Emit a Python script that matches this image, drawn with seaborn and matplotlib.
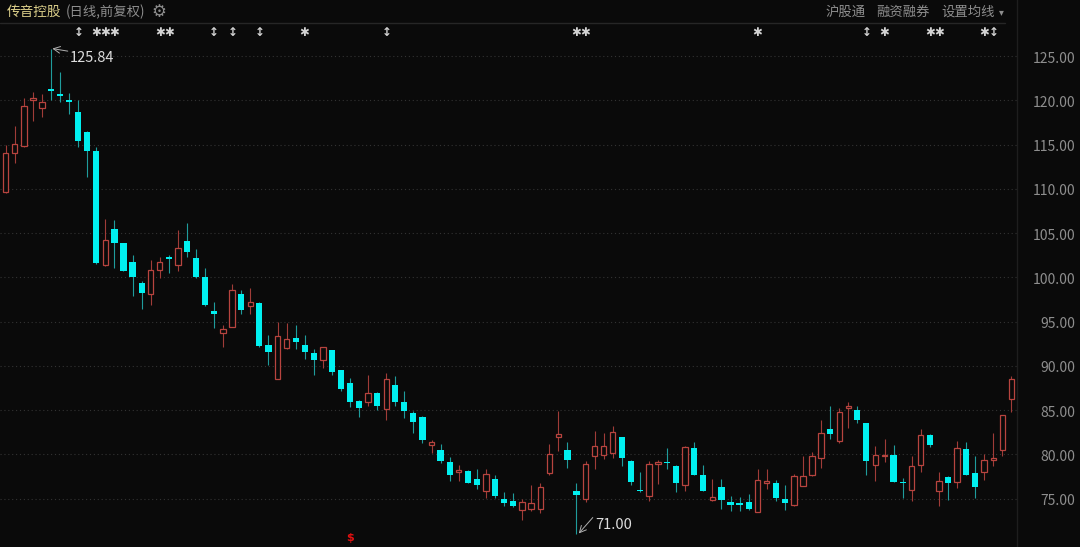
import matplotlib
matplotlib.use('Agg')
import numpy as np
import pandas as pd
import matplotlib.pyplot as plt
from matplotlib.lines import Line2D
import seaborn as sns

# daily OHLC (oldest -> newest)
opens = [109.6, 114.0, 114.8, 120.0, 119.1, 121.3, 120.7, 120.0, 118.7, 116.4,
         114.27, 101.35, 105.4, 103.85, 101.7, 99.4, 98.15, 100.8, 102.2, 101.35,
         104.1, 102.15, 100.06, 96.2, 93.75, 94.4, 98.1, 96.75, 97.05, 92.4,
         88.5, 92.0, 93.15, 92.3, 91.4, 90.65, 91.75, 89.5, 88.1, 86.05,
         85.9, 86.95, 85.15, 87.8, 85.87, 84.7, 84.25, 81.1, 80.5, 79.1,
         78.0, 78.1, 77.25, 75.9, 77.2, 74.95, 74.7, 73.7, 73.85, 73.85,
         77.9, 81.9, 80.45, 75.9, 74.9, 79.75, 79.9, 80.1, 81.95, 79.25,
         76.0, 75.3, 78.9, 79.05, 78.7, 76.5, 80.65, 77.7, 74.8, 76.35,
         74.6, 74.4, 74.55, 73.5, 76.7, 76.75, 74.95, 74.25, 76.45, 77.6,
         79.6, 82.8, 81.55, 85.2, 84.95, 83.5, 78.75, 79.8, 79.9, 76.85,
         75.95, 78.75, 82.15, 75.9, 77.45, 76.9, 80.6, 77.9, 77.95, 79.4,
         80.45, 86.2]
highs = [114.9, 117.1, 120.3, 120.9, 120.7, 125.84, 123.2, 120.85, 120.0, 116.5,
         114.75, 106.55, 106.5, 103.9, 102.5, 99.6, 101.95, 102.25, 102.5, 105.3,
         106.1, 103.2, 101.0, 97.2, 94.6, 99.2, 98.55, 98.8, 97.2, 93.45,
         94.9, 94.85, 94.6, 93.5, 91.85, 92.15, 91.8, 89.55, 88.65, 86.1,
         88.9, 87.0, 89.2, 88.85, 87.2, 84.9, 84.3, 81.65, 81.15, 79.7,
         78.8, 78.2, 78.35, 78.35, 77.65, 75.7, 75.6, 74.95, 76.5, 76.8,
         81.2, 84.9, 81.35, 76.7, 79.25, 82.6, 82.35, 83.2, 82.0, 79.3,
         77.95, 79.25, 79.35, 80.65, 78.8, 80.95, 81.35, 78.8, 77.25, 77.2,
         75.3, 75.15, 75.5, 78.3, 78.3, 77.1, 76.5, 77.75, 79.8, 80.25,
         83.9, 85.5, 85.2, 85.9, 85.5, 83.55, 80.9, 81.75, 81.0, 77.3,
         79.85, 82.9, 82.3, 77.95, 77.5, 81.45, 81.35, 79.75, 80.0, 82.35,
         84.45, 88.85]
lows = [109.5, 112.9, 114.7, 117.65, 118.1, 120.0, 119.8, 118.4, 114.75, 111.35,
        101.5, 101.3, 101.1, 100.7, 97.9, 96.45, 96.9, 99.9, 100.45, 100.7,
        102.25, 99.9, 96.8, 94.3, 92.15, 94.35, 95.8, 95.9, 92.15, 90.1,
        88.45, 91.9, 91.9, 90.8, 88.9, 89.7, 88.9, 87.1, 85.3, 84.25,
        85.4, 84.95, 83.85, 85.5, 84.05, 82.35, 81.3, 80.1, 79.0, 77.0,
        77.0, 76.7, 76.1, 75.1, 75.1, 74.2, 74.05, 72.6, 73.6, 73.35,
        77.7, 80.4, 78.4, 71.0, 74.55, 78.3, 79.45, 79.6, 78.7, 76.5,
        75.7, 74.7, 76.6, 78.3, 75.7, 75.85, 77.6, 75.85, 74.75, 73.8,
        73.6, 73.6, 73.7, 73.45, 76.05, 74.7, 73.7, 74.15, 76.4, 77.55,
        78.5, 81.7, 81.3, 83.0, 83.5, 77.7, 77.0, 79.1, 76.85, 75.1,
        74.7, 77.95, 80.85, 74.2, 74.85, 76.15, 77.65, 75.1, 77.1, 78.7,
        79.8, 84.75]
closes = [114.0, 115.1, 119.35, 120.3, 119.8, 121.1, 120.45, 119.8, 115.4, 114.3,
          101.6, 104.2, 103.85, 100.75, 100.06, 98.2, 100.8, 101.7, 102.1, 103.27,
          102.85, 100.0, 96.9, 95.8, 94.2, 98.55, 96.3, 97.2, 92.2, 91.55,
          93.4, 93.07, 92.7, 91.5, 90.65, 92.1, 89.3, 87.4, 85.9, 85.2,
          86.95, 85.4, 88.5, 85.87, 84.9, 83.6, 81.6, 81.4, 79.2, 77.6,
          78.2, 76.75, 76.5, 77.75, 75.3, 74.45, 74.1, 74.55, 74.5, 76.3,
          80.05, 82.25, 79.35, 75.35, 78.85, 80.9, 80.9, 82.5, 79.6, 76.9,
          75.85, 78.9, 79.1, 79.0, 76.7, 80.8, 77.65, 75.9, 75.2, 74.85,
          74.25, 74.3, 73.8, 77.1, 77.0, 75.1, 74.5, 77.5, 77.5, 79.75,
          82.45, 82.25, 84.8, 85.4, 83.9, 79.25, 79.95, 79.9, 76.9, 76.7,
          78.65, 82.15, 81.1, 77.0, 76.75, 80.75, 77.7, 76.25, 79.4, 79.6,
          84.4, 88.5]

y_ticks = [75, 80, 85, 90, 95, 100, 105, 110, 115, 120, 125]

# event markers above the candles (candle number, glyph)
event_days = [9, 11, 12, 13, 18, 19, 24, 26, 29, 34, 43, 64, 65, 84, 96, 98, 103, 104, 109, 110]
event_marks = ['↕', '✱', '✱', '✱', '✱', '✱', '↕', '↕', '↕', '✱', '↕', '✱', '✱', '✱', '↕', '✱', '✱', '✱', '✱', '↕']

BG = '#0a0a0a'
UP = '#b8443f'
UP_WICK = '#a03c38'
DOWN = '#00f0f0'
DOWN_WICK = '#1f9c9c'
GRID = '#333333'
LABEL = '#8e8e8e'

sns.set_theme(style='dark')
plt.rcParams['font.family'] = ['Noto Sans CJK SC', 'DejaVu Sans']
plt.rcParams['axes.unicode_minus'] = False

df = pd.DataFrame({'open': opens, 'high': highs, 'low': lows, 'close': closes})
df['i'] = np.arange(len(df))
up = df[df['close'] >= df['open']]
dn = df[df['close'] < df['open']]

fig = plt.figure(figsize=(10.8, 5.47), dpi=100, facecolor=BG)
ax = fig.add_axes([0, 0, 1017 / 1080, 1])
ax.set_facecolor(BG)

# wicks
ax.vlines(up['i'], up['low'], up['high'], color=UP_WICK, lw=0.8, zorder=2)
ax.vlines(dn['i'], dn['low'], dn['high'], color=DOWN_WICK, lw=0.8, zorder=2)

# bodies: hollow red for up days, solid cyan for down days
ax.bar(up['i'], np.maximum(up['close'] - up['open'], 0.12), bottom=up['open'],
       width=0.6, facecolor=BG, edgecolor=UP, linewidth=0.9, zorder=3)
ax.bar(dn['i'], np.maximum(dn['open'] - dn['close'], 0.15), bottom=dn['close'],
       width=0.68, color=DOWN, linewidth=0, zorder=3)

ax.set_xlim(-5.7 / 9.06, (1017 - 5.7) / 9.06)
ax.set_ylim(125 - 491 / 8.85, 125 + 56 / 8.85)
ax.set_xticks([])
ax.set_yticks(y_ticks)
ax.set_yticklabels([])
ax.tick_params(axis='y', length=0)
ax.yaxis.grid(True, color=GRID, linestyle=(0, (1, 2.5)), lw=0.8)
ax.xaxis.grid(False)
for s in ['top', 'left', 'bottom']:
    ax.spines[s].set_visible(False)
ax.spines['right'].set_color('#1e1e1e')
ax.spines['right'].set_linewidth(1)

for v in y_ticks:
    ax.text(1075 / 1017, v - 0.3, f'{v:.2f}', transform=ax.get_yaxis_transform(),
            ha='right', va='center', color=LABEL, fontsize=10, clip_on=False)

# max / min annotations
ax.annotate('', xy=(5.15, 125.84), xytext=(6.85, 125.55),
            arrowprops=dict(arrowstyle='->', color='#b0b0b0', lw=0.7, shrinkA=0, shrinkB=0))
ax.text(7.1, 124.75, '125.84', color='#dcdcdc', fontsize=10.5, ha='left', va='center')
ax.annotate('', xy=(63.25, 71.05), xytext=(64.8, 72.85),
            arrowprops=dict(arrowstyle='->', color='#b0b0b0', lw=0.7, shrinkA=0, shrinkB=0))
ax.text(65.1, 72.05, '71.00', color='#dcdcdc', fontsize=10.5, ha='left', va='center')

# event markers
for d, m in zip(event_days, event_marks):
    ax.text(d - 1, 127.7, m, color='#d2d2d2', fontsize=8.5 if m == '✱' else 8.5,
            ha='center', va='center', family='DejaVu Sans', fontweight='bold')

ax.text(38, 70.55, '$', color='#e01010', fontsize=8, ha='center', va='center',
        family='DejaVu Sans', fontweight='bold')

# header
hy = 1 - 12 / 547
fig.text(7 / 1080, hy, '传音控股', color='#ddd08a', fontsize=9.8, va='center')
fig.text(66 / 1080, hy, '(日线,前复权)', color='#8e8e8e', fontsize=9.6, va='center')
fig.text(151 / 1080, hy, '⚙', color='#8e8e8e', fontsize=12, va='center',
         family='DejaVu Sans')
fig.text(825 / 1080, hy, '沪股通', color='#8e8e8e', fontsize=9.6, va='center')
fig.text(876 / 1080, hy, '融资融券', color='#8e8e8e', fontsize=9.6, va='center')
fig.text(941 / 1080, hy, '设置均线', color='#8e8e8e', fontsize=9.6, va='center')
fig.text(999 / 1080, hy, '▾', color='#8e8e8e', fontsize=7, va='center',
         family='DejaVu Sans')
fig.add_artist(Line2D([0, 1005 / 1080], [1 - 23 / 547] * 2, color='#262626', lw=1))

fig.savefig('out.png', dpi=100, facecolor=BG)
